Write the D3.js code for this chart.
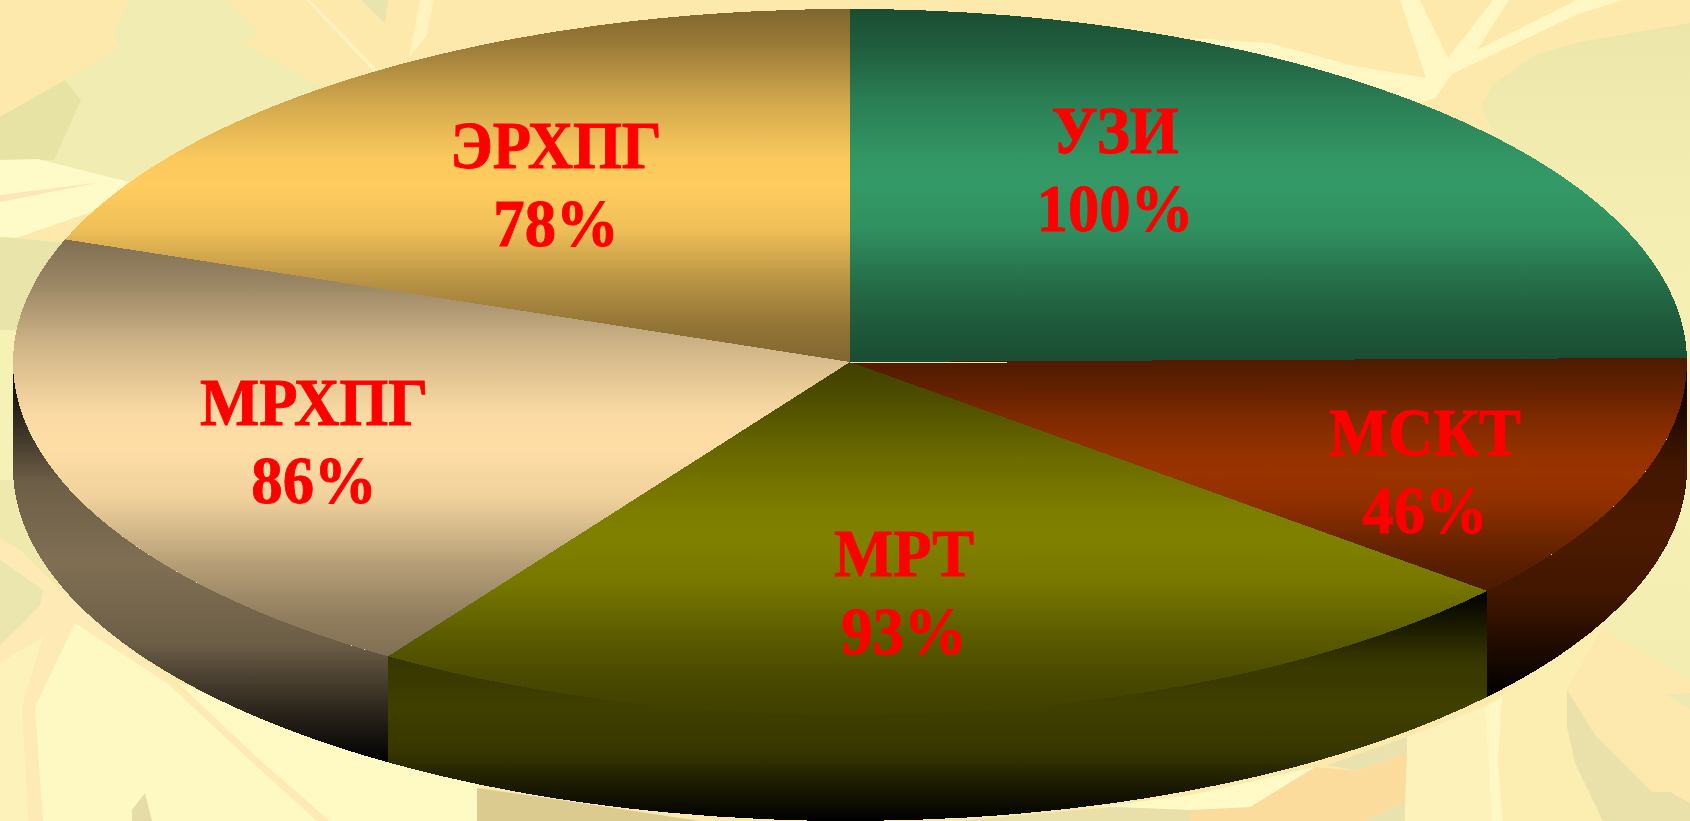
<!DOCTYPE html>
<html lang="ru">
<head>
<meta charset="utf-8">
<title>Методы исследования</title>
<script src="https://cdn.jsdelivr.net/npm/d3@7/dist/d3.min.js"></script>
<style>
  html, body { margin: 0; padding: 0; background: #fde9ac; overflow: hidden; }
  svg { display: block; }
  .slice-label { font-family: "Liberation Serif", serif; font-weight: 700; font-size: 64px; fill: #ff0000; stroke: #ff0000; stroke-width: 0.9px; text-anchor: middle; }
  .disc path { shape-rendering: crispEdges; }
</style>
</head>
<body>
<script>
// Chart data, clockwise from twelve o'clock
const categories = ["УЗИ", "МСКТ", "МРТ", "МРХПГ", "ЭРХПГ"];
const values = [100, 46, 93, 86, 78];
const sliceColors = ["#339966", "#993300", "#808000", "#ffdea6", "#ffcc5e"];

const width = 1690, height = 821;
const cx = 850, cy = 362, rx = 837, ry = 353, depth = 106;
const squash = ry / rx;

const svg = d3.select("body").append("svg").attr("width", width).attr("height", height);
const defs = svg.append("defs");

// Soft pale tone for the big leaf on the right
const paleLeaf = defs.append("linearGradient").attr("id", "paleLeaf")
  .attr("x1", 0).attr("y1", 0).attr("x2", 0).attr("y2", 1);
[[0, "#ece6aa"], [0.25, "#f3edb2"], [0.6, "#f8f1b6"], [1, "#f4edb2"]].forEach(([o, c]) =>
  paleLeaf.append("stop").attr("offset", o).attr("stop-color", c));

// Leafy backdrop: [fill, outline]
const backdrop = [
  // upper left
  ["#f1ecb2", [[129,0],[114,32],[119,48],[65,80],[0,117],[0,160],[129,182],[323,87],[242,43],[261,33],[226,0]]],
  ["#e7e3a4", [[0,117],[65,80],[81,100],[54,160],[0,160]]],
  ["#fffbc8", [[0,160],[38,159],[129,182],[97,210],[16,238],[0,237]]],
  ["#fde6b8", [[0,195],[102,182],[0,202]]],
  ["#e9e5aa", [[0,237],[16,238],[65,243],[40,300],[13,333],[0,330]]],
  ["#f6f2b6", [[0,330],[16,330],[16,480],[0,480]]],
  ["#fff3c2", [[306,0],[310,0],[378,70],[374,72]]],
  ["#e9e4ae", [[361,0],[385,23],[388,0]]],
  ["#fff3c0", [[420,0],[434,0],[426,37],[409,57]]],
  // upper right
  ["#fff8c4", [[1190,38],[1270,43],[1350,65],[1426,78],[1400,0],[1420,0],[1448,58],[1493,0],[1509,0],[1477,50],[1577,0],[1623,0],[1578,14],[1452,74],[1435,98],[1420,103],[1340,80],[1260,60]]],
  ["url(#paleLeaf)", [[1690,23],[1580,42],[1535,55],[1492,85],[1481,107],[1497,140],[1560,300],[1560,640],[1602,628],[1690,680]]],
  // lower right
  ["#fcedb0", [[1407,737],[1485,705],[1602,628],[1683,680],[1690,693],[1690,821],[1405,821]]],
  ["#fdf2ba", [[1407,737],[1485,707],[1492,821],[1405,821]]],
  ["#fff7c4", [[1485,707],[1502,697],[1498,763],[1503,821],[1492,821]]],
  ["#fde9ad", [[1602,628],[1683,680],[1690,693],[1690,803],[1670,792],[1652,792],[1595,735],[1567,690]]],
  ["#efe8b0", [[1667,695],[1690,693],[1690,710]]],
  ["#e9e0aa", [[1567,690],[1595,735],[1652,792],[1670,792],[1690,803],[1690,821],[1603,821],[1575,763],[1567,727]]],
  // bottom centre
  ["#e9e2ae", [[1327,765],[1358,771],[1407,753],[1407,737]]],
  ["#fbdc9c", [[1315,767],[1358,771],[1407,753],[1405,802],[1364,821],[1190,821],[1190,810],[1250,807]]],
  ["#e9e2ae", [[1364,821],[1405,802],[1405,821]]],
  ["#fffac6", [[1100,807],[1190,795],[1315,767],[1250,807],[1190,810],[1114,807]]],
  ["#e8e0a8", [[958,821],[1190,821],[1190,810],[1114,807]]],
  // lower left
  ["#efe9ae", [[0,480],[16,480],[60,590],[20,550],[0,538]]],
  ["#fdeab4", [[0,538],[20,550],[60,590],[180,690],[340,780],[480,800],[480,821],[0,821]]],
  ["#ebe6ae", [[0,560],[43,590],[40,605],[23,623],[0,645]]],
  ["#fdf3ba", [[0,663],[43,637],[22,707],[28,821],[0,821]]],
  ["#fef9c2", [[75,623],[167,683],[253,763],[317,821],[43,821],[35,707]]],
  ["#fffac4", [[177,682],[263,763],[330,821],[480,821],[480,775],[300,730]]],
  ["#e5dca8", [[145,793],[132,810],[132,821],[152,821]]],
  ["#dccb8e", [[477,788],[477,821],[700,821],[540,797]]]
];

svg.append("rect").attr("width", width).attr("height", height).attr("fill", "#fde9ac");
const outline = d3.line().curve(d3.curveLinearClosed);
svg.append("g").selectAll("path").data(backdrop).join("path")
  .attr("fill", d => d[0])
  .attr("d", d => outline(d[1]));

// Vertical gradient sized to each shape's own box; ramp is [offset, blend towards the middle colour]
const topRamp = [[0, 0], [0.1, 0.2], [0.26, 0.64], [0.42, 0.96], [0.5, 1], [0.62, 0.88], [0.78, 0.42], [0.9, 0.14], [1, 0]];
const wallRamp = [[0, 0], [0.15, 0.4], [0.3, 0.85], [0.5, 1], [0.7, 0.85], [0.85, 0.4], [1, 0]];
function verticalGradient(id, edge, middle, ramp) {
  const g = defs.append("linearGradient").attr("id", id)
    .attr("x1", 0).attr("y1", 0).attr("x2", 0).attr("y2", 1);
  const mix = d3.interpolateRgb(edge, middle);
  ramp.forEach(([o, t]) => g.append("stop").attr("offset", o).attr("stop-color", mix(t)));
}
const halve = c => { const k = d3.rgb(c); return d3.rgb(k.r / 2, k.g / 2, k.b / 2).formatHex(); };
sliceColors.forEach((c, i) => {
  verticalGradient("top" + i, halve(c), c, topRamp);
  verticalGradient("wall" + i, "#000000", halve(c), wallRamp);
});

const arcs = d3.pie().sort(null).value(d => d)(values);
const chart = svg.append("g").attr("class", "disc").attr("transform", `translate(${cx},${cy}) scale(1,${squash})`);

// Rim of the disc: only the part of each slice facing the viewer
const depthUnits = depth / squash;
function wallPath(d) {
  const a0 = Math.max(d.startAngle, Math.PI / 2) - Math.PI / 2;
  const a1 = Math.min(d.endAngle, 3 * Math.PI / 2) - Math.PI / 2;
  const p = d3.path();
  p.arc(0, 0, rx, a0, a1);
  p.lineTo(rx * Math.cos(a1), rx * Math.sin(a1) + depthUnits);
  p.arc(0, depthUnits, rx, a1, a0, true);
  p.closePath();
  return p.toString();
}
chart.append("g").selectAll("path")
  .data(arcs.map((d, i) => ({ d, i })).filter(({ d }) => d.endAngle > Math.PI / 2 && d.startAngle < 3 * Math.PI / 2))
  .join("path")
  .attr("fill", o => `url(#wall${o.i})`)
  .attr("d", o => wallPath(o.d));

// Top face
const arc = d3.arc().innerRadius(0).outerRadius(rx);
chart.append("g").selectAll("path").data(arcs).join("path")
  .attr("fill", (d, i) => `url(#top${i})`)
  .attr("d", arc);

// Thin highlight along the first slice's lower edge
svg.append("line")
  .attr("x1", cx).attr("y1", cy + 0.5).attr("x2", cx + 157).attr("y2", cy + 0.5)
  .attr("stroke", "#f0dfae").attr("stroke-width", 1);

// Label anchors: name baseline, then the percentage one line below
const labelAnchors = [
  { x: 1115, y: 153 },
  { x: 1425, y: 455 },
  { x: 904, y: 576 },
  { x: 314, y: 425 },
  { x: 556, y: 168 }
];
const labels = svg.append("g").selectAll("g").data(categories).join("g")
  .attr("transform", (d, i) => `translate(${labelAnchors[i].x},${labelAnchors[i].y})`);
labels.append("text").attr("class", "slice-label")
  .attr("transform", "scale(0.98,1.05)").text(d => d);
labels.append("text").attr("class", "slice-label")
  .attr("transform", "translate(0,78) scale(0.98,1.05)").text((d, i) => `${values[i]}%`);
</script>
</body>
</html>
